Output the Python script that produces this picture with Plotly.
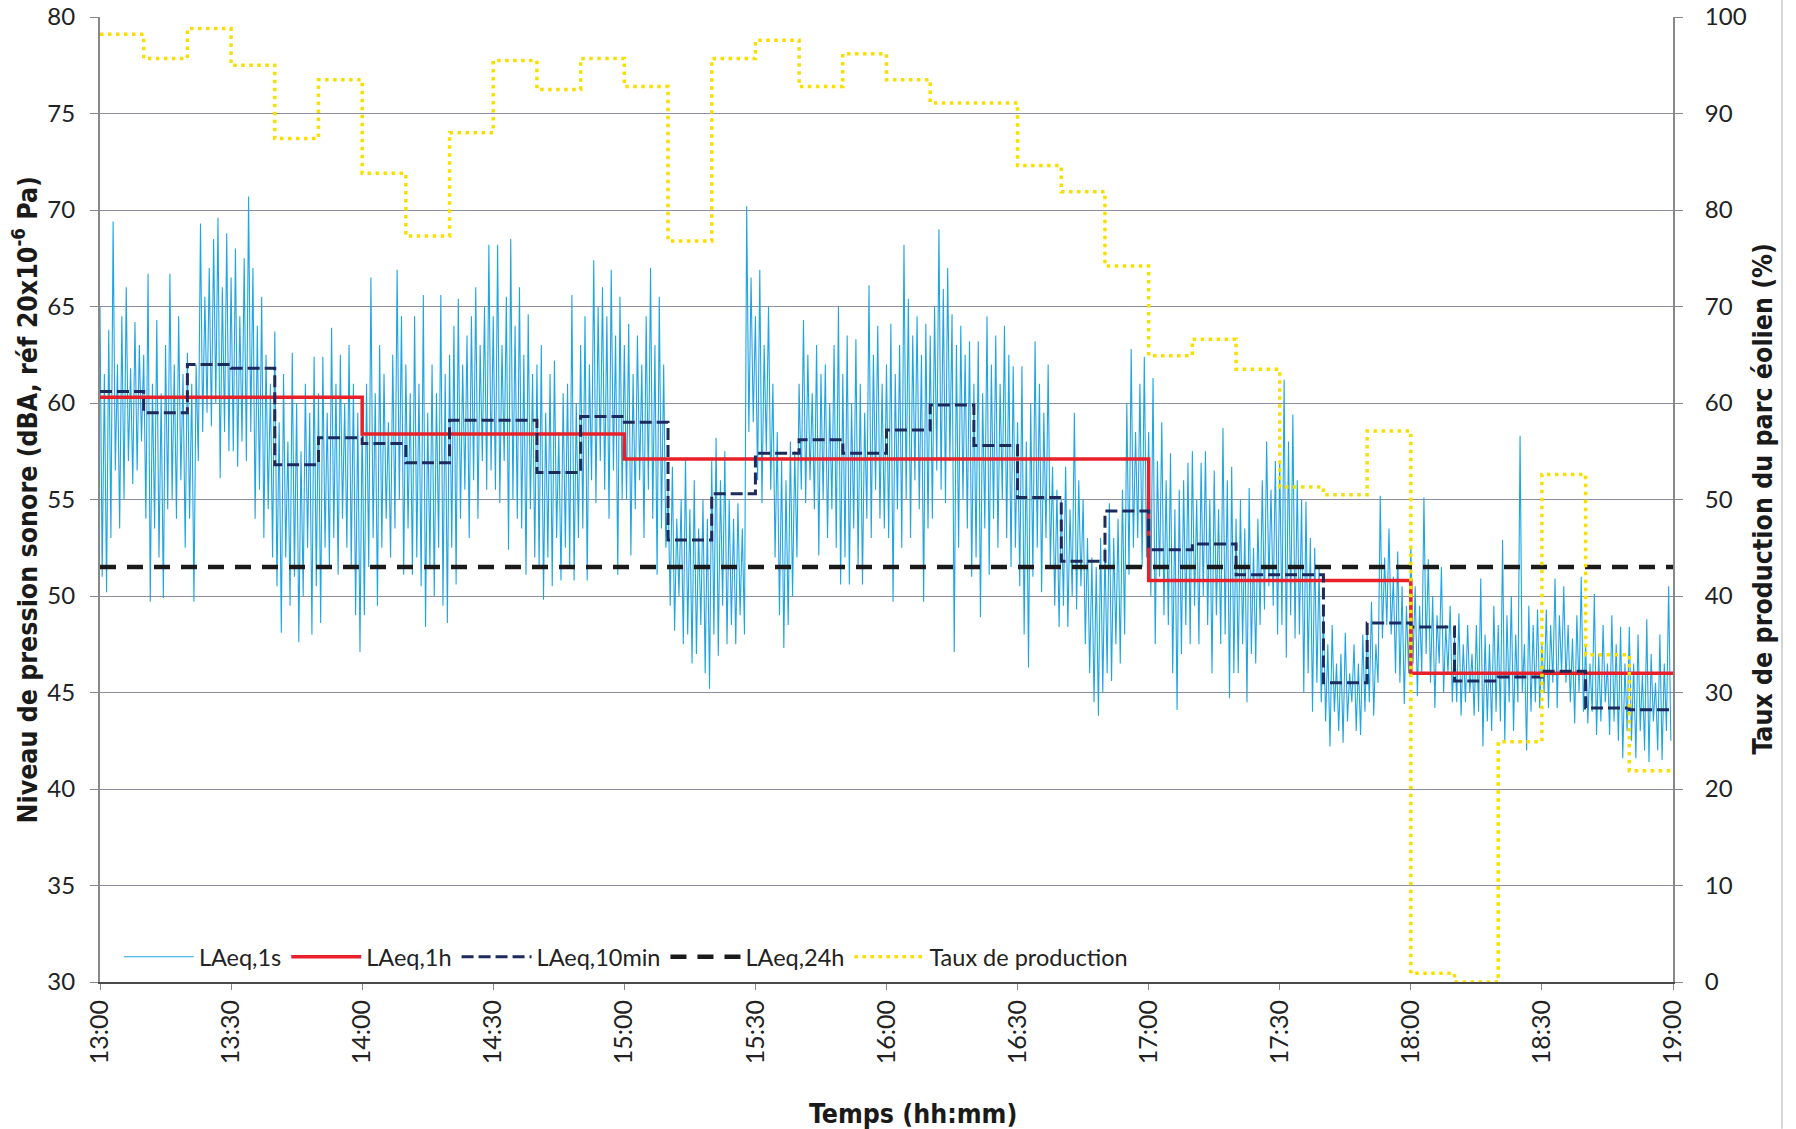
import plotly.graph_objects as go

# ---- data (minutes after 13:00) ----
TICK_VALS = [0, 30, 60, 90, 120, 150, 180, 210, 240, 270, 300, 330, 360]
TICK_TEXT = ["13:00", "13:30", "14:00", "14:30", "15:00", "15:30", "16:00",
             "16:30", "17:00", "17:30", "18:00", "18:30", "19:00"]

# LAeq,1s read as per-minute peak (high) and trough (low) values
LAEQ_1S_HIGH = [
    65.0, 61.5, 63.8, 69.4, 62.0, 64.5, 66.0, 61.8, 64.2, 63.0,
    62.5, 66.7, 61.0, 64.3, 60.5, 63.0, 66.7, 62.0, 64.5, 61.5,
    62.6, 61.0, 62.0, 69.3, 65.5, 67.0, 68.5, 69.6, 66.0, 68.8,
    66.5, 68.0, 64.5, 67.5, 70.7, 67.0, 64.0, 65.5, 62.5, 61.0,
    63.7, 59.0, 61.5, 58.0, 62.6, 60.0, 57.5, 61.0, 59.5, 62.4,
    60.5, 62.4, 59.5, 63.9, 61.0, 62.5, 60.0, 63.0, 61.0, 59.5,
    59.5, 61.0, 66.5, 60.5, 63.0, 61.5, 59.0, 62.5, 66.9, 64.5,
    62.0, 60.5, 64.5, 61.0, 65.6, 59.5, 62.0, 60.5, 65.6, 61.5,
    62.5, 64.0, 65.4, 62.0, 63.5, 64.5, 66.0, 63.0, 65.0, 68.2,
    64.5, 68.2, 63.0, 65.5, 68.5, 64.0, 66.0, 62.5, 64.6, 61.5,
    62.0, 63.0, 59.5, 61.5, 62.2, 58.5, 60.5, 61.0, 65.6, 60.0,
    63.0, 64.5, 62.0, 67.4, 65.0, 66.0, 64.5, 66.9, 63.5, 65.5,
    63.0, 64.1, 61.5, 63.5, 62.0, 64.5, 67.0, 63.0, 65.5, 62.0,
    55.5, 56.7, 54.0, 55.0, 57.1, 54.5, 56.0, 53.5, 55.0, 54.0,
    57.0, 58.2, 56.0, 57.5, 55.0, 54.0, 54.8, 53.5, 70.2, 66.5,
    64.5, 66.9, 63.0, 65.0, 61.0, 58.5, 57.0, 56.0, 58.0, 57.5,
    61.0, 64.3, 62.5, 60.5, 63.0, 61.5, 62.0, 60.0, 63.0, 65.0,
    61.5, 63.5, 60.0, 63.3, 61.0, 59.5, 66.1, 62.5, 64.0, 61.0,
    62.0, 64.1, 61.5, 63.0, 68.2, 65.4, 63.5, 64.5, 62.5, 64.1,
    63.5, 65.0, 69.0, 65.9, 67.0, 64.6, 63.0, 64.0, 62.5, 63.2,
    61.0, 63.2, 60.5, 64.5, 62.0, 63.5, 61.0, 64.0, 62.5, 61.9,
    59.0, 61.9, 58.0, 60.0, 63.2, 61.0, 59.5, 62.0, 56.7, 55.5,
    55.0, 56.7, 54.5, 59.5, 56.0, 55.0, 53.0, 52.0, 51.5, 53.0,
    52.5, 54.8, 53.0, 54.0, 55.5, 60.0, 62.8, 58.5, 61.0, 62.4,
    58.5, 61.3, 57.0, 59.0, 56.0, 57.4, 54.5, 55.5, 56.0, 56.9,
    57.5, 55.0, 56.9, 57.5, 55.0, 56.5, 54.5, 58.7, 56.0, 56.7,
    54.0, 55.0, 53.5, 55.6, 52.5, 54.0, 56.0, 58.0, 55.5, 57.0,
    57.0, 61.2, 58.0, 59.4, 56.0, 55.0, 54.9, 53.0, 52.5, 51.5,
    49.1, 47.5, 48.5, 46.5, 47.0, 48.1, 46.0, 47.5, 46.5, 48.0,
    48.5, 49.7, 47.5, 55.2, 52.0, 53.5, 51.0, 52.3, 50.5, 49.5,
    52.6, 50.5, 49.5, 55.1, 51.9, 50.0, 49.0, 51.5, 48.5, 49.5,
    48.0, 49.1, 47.5, 48.5, 47.0, 48.5, 50.9, 48.0, 47.5, 49.5,
    48.5, 52.9, 49.0, 50.0, 48.0, 58.3, 47.5, 49.5, 48.5, 49.3,
    47.5, 49.3, 48.5, 50.9, 49.0, 50.5, 48.5, 47.8, 49.0, 51.0,
    47.5, 46.5, 50.1, 47.0, 48.5, 46.5, 49.0, 47.5, 48.4, 46.5,
    48.4, 46.5, 48.0, 46.0, 48.8, 47.0, 45.5, 48.0, 46.5, 50.5,
]
LAEQ_1S_LOW = [
    51.0, 50.2, 53.0, 56.5, 53.5, 55.0, 57.0, 55.8, 56.5, 58.0,
    54.0, 49.7, 53.5, 52.0, 49.9, 54.5, 55.0, 54.0, 56.0, 52.5,
    54.0, 49.7, 57.0, 58.5, 59.5, 58.8, 60.0, 56.1, 58.5, 57.5,
    57.5, 56.7, 58.0, 57.0, 58.5, 54.0, 55.5, 53.0, 54.5, 52.0,
    50.5, 48.1, 52.0, 49.5, 51.0, 47.6, 50.0, 52.5, 48.0, 50.5,
    48.6, 52.5, 51.5, 53.0, 51.1, 54.0, 52.5, 51.5, 49.0, 47.1,
    49.0, 51.5, 53.0, 49.5, 52.5, 54.0, 52.0, 53.5, 55.0, 51.1,
    53.5, 51.1, 52.0, 50.5, 48.4, 51.5, 50.0, 52.5, 49.5, 48.6,
    52.5, 50.6, 54.0, 55.5, 53.0, 56.0, 54.0, 57.0, 55.5, 56.5,
    55.5, 54.8, 57.0, 52.4, 55.0, 54.0, 53.5, 51.1, 54.5, 52.0,
    51.5, 49.8, 52.0, 50.5, 53.0, 50.8, 52.5, 51.5, 50.8, 53.0,
    53.5, 50.8, 56.0, 54.8, 57.0, 55.5, 54.0, 56.5, 51.1, 55.0,
    55.0, 52.1, 54.5, 56.0, 53.0, 55.5, 54.0, 51.1, 53.5, 52.5,
    49.5, 48.2, 50.0, 47.5, 48.0, 46.5, 47.0, 48.5, 46.0, 45.2,
    48.0, 46.9, 49.5, 47.5, 48.5, 47.5, 49.0, 48.0, 58.5, 59.0,
    56.0, 54.8, 57.5, 55.5, 52.0, 49.0, 47.3, 48.5, 50.0, 52.0,
    55.5, 54.8, 56.0, 54.5, 52.1, 55.0, 53.0, 54.5, 52.5, 50.6,
    52.0, 50.6, 53.5, 51.5, 50.6, 54.0, 53.0, 55.5, 54.0, 53.5,
    53.0, 49.7, 54.5, 52.5, 55.0, 53.0, 56.0, 54.5, 49.7, 53.5,
    54.0, 56.5, 55.5, 54.8, 57.0, 47.1, 52.5, 55.0, 53.5, 51.0,
    52.0, 48.9, 53.5, 51.1, 54.0, 52.5, 55.0, 53.0, 51.5, 52.5,
    50.5, 48.0, 46.3, 51.0, 52.5, 50.2, 53.0, 51.5, 49.5, 48.4,
    49.5, 48.4, 50.0, 49.3, 50.5, 47.5, 46.0, 44.5, 43.8, 45.0,
    46.0, 45.6, 47.5, 46.5, 48.0, 51.1, 52.5, 53.0, 51.5, 52.0,
    50.0, 47.5, 51.0, 49.0, 48.5, 46.0, 44.1, 47.0, 48.5, 47.5,
    49.5, 47.5, 50.0, 48.5, 46.0, 49.0, 47.5, 48.0, 44.7, 46.0,
    46.0, 47.5, 44.5, 47.0, 46.5, 48.5, 49.3, 50.5, 49.5, 48.0,
    48.5, 46.8, 49.0, 47.8, 48.0, 45.0, 46.0, 44.0, 45.5, 44.5,
    43.5, 42.2, 44.0, 43.0, 42.4, 43.5, 44.5, 43.0, 42.8, 44.0,
    44.5, 43.8, 45.5, 47.8, 48.5, 48.0, 46.0, 45.5, 44.4, 46.0,
    46.5, 44.8, 46.0, 47.0, 45.5, 44.2, 46.5, 45.0, 46.0, 44.5,
    44.5, 43.8, 44.5, 45.0, 43.8, 44.0, 42.2, 43.5, 43.0, 44.0,
    43.5, 42.4, 44.5, 43.0, 44.5, 45.0, 42.0, 44.0, 44.5, 44.2,
    45.0, 44.2, 45.5, 44.2, 46.0, 45.5, 44.5, 43.4, 45.0, 44.0,
    43.4, 44.0, 42.8, 43.5, 44.5, 42.8, 43.5, 42.5, 41.6, 43.0,
    42.5, 41.6, 43.0, 42.0, 41.4, 43.5, 42.0, 41.5, 43.0, 42.5,
]

# LAeq,10min (36 intervals)
LAEQ_10MIN = [60.6, 59.5, 62.0, 61.8, 56.8, 58.2,
              57.9, 56.9, 59.1, 59.1, 56.4, 59.3,
              59.0, 52.9, 55.3, 57.4, 58.1, 57.4,
              58.6, 59.9, 57.8, 55.1, 51.8, 54.4,
              52.4, 52.7, 51.1, 51.1, 45.5, 48.6,
              48.4, 45.6, 45.8, 46.1, 44.2, 44.1]
# LAeq,1h (6 intervals)
LAEQ_1H = [60.3, 58.4, 57.1, 57.1, 50.8, 46.0]
# LAeq,24h
LAEQ_24H = 51.5
# Taux de production (%) per 10 min
TAUX = [98.2, 95.7, 98.8, 95.0, 87.4, 93.5,
        83.8, 77.3, 88.0, 95.5, 92.5, 95.7,
        92.8, 76.8, 95.7, 97.6, 92.8, 96.2,
        93.5, 91.1, 91.1, 84.6, 81.9, 74.2,
        64.9, 66.6, 63.5, 51.3, 50.5, 57.1,
        0.9, 0.0, 24.9, 52.6, 33.9, 21.9]

# ---- build traces ----
x1s, y1s = [], []
for m, (h, l) in enumerate(zip(LAEQ_1S_HIGH, LAEQ_1S_LOW)):
    x1s += [m, m + 0.5]
    y1s += [h, l]

x10 = [10 * i for i in range(len(LAEQ_10MIN))] + [360]
y10 = LAEQ_10MIN + [LAEQ_10MIN[-1]]
x1h = [60 * i for i in range(len(LAEQ_1H))] + [360]
y1h = LAEQ_1H + [LAEQ_1H[-1]]
xt = [10 * i for i in range(len(TAUX))] + [360]
yt = TAUX + [TAUX[-1]]

Y_TICK_FONT = dict(family="Lato, Open Sans, sans-serif", size=24, color="#222")
X_TICK_FONT = dict(family="Lato, Open Sans, sans-serif", size=25, color="#222")
TITLE_FONT = dict(family="Liberation Sans Narrow, Arial Narrow, DejaVu Sans Condensed, sans-serif",
                  size=26.5, color="#1a1a1a")

fig = go.Figure()
fig.add_trace(go.Scatter(x=x1s, y=y1s, mode="lines", name="LAeq,1s",
                         line=dict(color="#1fa5e2", width=1.1)))
fig.add_trace(go.Scatter(x=x1h, y=y1h, mode="lines", name="LAeq,1h", line_shape="hv",
                         line=dict(color="#e8202a", width=3.5)))
fig.add_trace(go.Scatter(x=x10, y=y10, mode="lines", name="LAeq,10min", line_shape="hv",
                         line=dict(color="#1c2a5c", width=3, dash="12px,5px")))
fig.add_trace(go.Scatter(x=[0, 360], y=[LAEQ_24H, LAEQ_24H], mode="lines", name="LAeq,24h",
                         line=dict(color="#1a1a1a", width=4.5, dash="16px,11px")))
fig.add_trace(go.Scatter(x=xt, y=yt, mode="lines", name="Taux de production", line_shape="hv",
                         yaxis="y2", line=dict(color="#f7e000", width=3.5, dash="3.5px,4.5px")))

fig.update_layout(
    width=1796, height=1129,
    margin=dict(l=100, r=123, t=17, b=147),
    paper_bgcolor="white", plot_bgcolor="white",
    showlegend=True,
    legend=dict(orientation="h", x=0.012, y=0.026, xanchor="left", yanchor="middle",
                bgcolor="rgba(0,0,0,0)", font=dict(family="Lato, Open Sans, sans-serif", size=23.5, color="#222"),
                itemwidth=70, traceorder="normal"),
    xaxis=dict(range=[0, 360], tickmode="array", tickvals=TICK_VALS, ticktext=TICK_TEXT,
               tickangle=-90, tickfont=X_TICK_FONT, showgrid=False, zeroline=False, automargin=False,
               showline=True, linecolor="#4a4a4a", linewidth=2.2, ticks="outside", ticklen=6,
               tickcolor="#888"),
    yaxis=dict(range=[30, 80], dtick=5, tickfont=Y_TICK_FONT, showgrid=True, automargin=False,
               gridcolor="#8e8ea2", gridwidth=1.3, zeroline=False, showline=True,
               linecolor="#888", linewidth=2, ticks="outside", ticklen=8, tickcolor="#888",
               ticklabelstandoff=10),
    yaxis2=dict(range=[0, 100], dtick=10, overlaying="y", side="right", tickfont=Y_TICK_FONT,
                showgrid=False, zeroline=False, showline=True, linecolor="#888", linewidth=2,
                automargin=False, ticks="outside", ticklen=8, tickcolor="#888",
                ticklabelstandoff=17),
    annotations=[
        dict(text="Niveau de pression sonore (dBA, réf 20x10<sup>-6</sup> Pa)", xref="paper", yref="paper",
             x=-0.0477, y=0.5, textangle=-90, showarrow=False, xanchor="center", yanchor="middle",
             font=dict(**TITLE_FONT, weight="bold")),
        dict(text="Taux de production du parc éolien (%)", xref="paper", yref="paper",
             x=1.0566, y=0.5, textangle=-90, showarrow=False, xanchor="center", yanchor="middle",
             font=dict(**TITLE_FONT, weight="bold")),
        dict(text="Temps (hh:mm)", xref="paper", yref="paper",
             x=0.5168, y=-0.1358, showarrow=False, xanchor="center", yanchor="middle",
             font=dict(**TITLE_FONT, weight="bold")),
    ],
    shapes=[dict(type="line", xref="paper", yref="paper", x0=1.0693, x1=1.0693, y0=-0.152, y1=1.0176,
                 line=dict(color="#c8c8c8", width=1.5))],
)

fig.write_html("out.html")
